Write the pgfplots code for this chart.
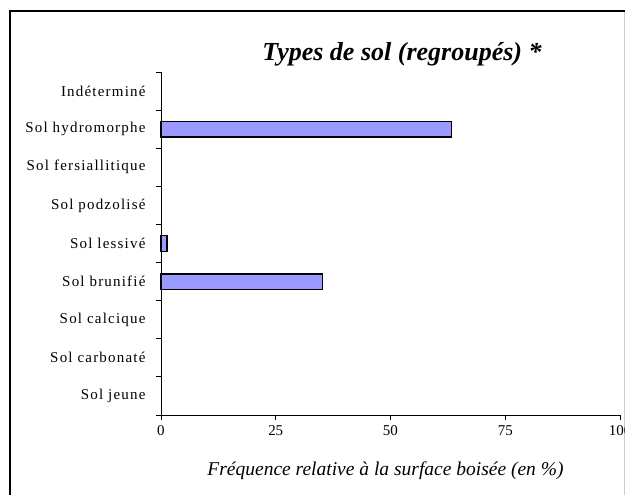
\documentclass[border=0pt]{standalone}
\usepackage{fontspec}
\setmainfont{Liberation Serif}
\newfontfamily\lblfont[LetterSpace=8]{Liberation Serif}
\usepackage{pgfplots}
\pgfplotsset{compat=1.18}
\definecolor{barfill}{HTML}{9999FF}
\begin{document}
\begin{tikzpicture}[x=1pt,y=1pt]
\useasboundingbox (0,0) rectangle (625,495);
\draw[line width=2pt] (10,-10) -- (10,483.5) -- (640,483.5);
\draw[gray!40, line width=1pt] (624.5,0) -- (624.5,483);
\begin{axis}[
  at={(161pt,80pt)}, anchor=south west,
  scale only axis, width=459pt, height=343pt,
  xbar, bar width=15.4pt,
  xmin=0, xmax=100, ymin=-0.5, ymax=8.5,
  axis lines=left, axis line style={-, line width=0.9pt},
  tick align=outside,
  xtick={0,25,50,75,100},
  major tick length=5pt, minor tick length=5pt,
  ytick={0,...,8},
  yticklabels={Sol jeune, Sol carbonaté, Sol calcique, Sol brunifié, Sol lessivé, Sol podzolisé, Sol fersiallitique, Sol hydromorphe, Indéterminé},
  minor ytick={-0.5,0.5,...,8.5},
  major y tick style={draw=none},
  minor y tick style={line width=0.9pt, black},
  major x tick style={line width=0.9pt, black},
  yticklabel style={font=\lblfont\fontsize{15}{17}\selectfont, xshift=-7pt},
  xticklabel style={font=\fontsize{15}{17}\selectfont, yshift=-2pt},
  /pgf/number format/assume math mode=true,
  clip=false,
]
\addplot[draw=black, line width=1.3pt, fill=barfill] coordinates {
(35.2,3) (1.3,4) (63.3,7)};
\end{axis}
\node[anchor=base, font=\fontsize{26}{30}\selectfont\bfseries\itshape] at (402,434) {Types de sol (regroupés) *};
\node[anchor=base, font=\fontsize{19.5}{22}\selectfont\itshape] at (385.5,19) {Fréquence relative à la surface boisée (en \%)};
\end{tikzpicture}
\end{document}
